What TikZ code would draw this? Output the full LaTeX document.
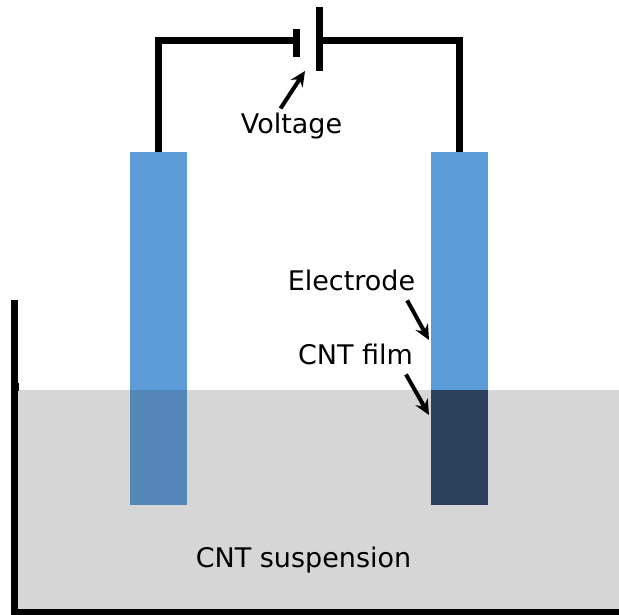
\documentclass[tikz,border=0pt]{standalone}
\usepackage{fontspec}
\setmainfont{DejaVu Sans}
\usepackage{tikz}
\usetikzlibrary{positioning,calc,arrows.meta}
\definecolor{elecblue}{HTML}{5B9BD8}
\definecolor{elecwet}{HTML}{5586B8}
\definecolor{filmdark}{HTML}{2B405A}
\definecolor{bathgray}{HTML}{D6D6D6}
\tikzstyle{electrode} = [rectangle, inner sep=0, outer sep=0, minimum width=57, minimum height=353, anchor=north, fill=elecblue]
\tikzstyle{wetpart} = [rectangle, inner sep=0, outer sep=0, minimum width=57, minimum height=115, anchor=north]
\tikzstyle{plate} = [rectangle, inner sep=0, outer sep=0, fill=black, minimum width=7]
\tikzstyle{wire} = [line width=7, line cap=butt]
\tikzstyle{arrow} = [line width=4,-{Stealth[length=15,width=14]}]
\tikzstyle{lbl} = [inner sep=0, outer sep=0, anchor=base, font=\fontsize{27}{31}\selectfont]

\begin{document}
\begin{tikzpicture}[x=1pt, y=-1pt]
    \useasboundingbox (0,0) rectangle (619,615);
    \fill[bathgray] (18,390) rectangle (619,610);
    \node[electrode] (elecL) at (158.5,152) {};
    \node[electrode] (elecR) at (459.5,152) {};
    \node[wetpart, fill=elecwet] (wetL) at (158.5,390) {};
    \node[wetpart, fill=filmdark] (filmR) at (459.5,390) {};
    \node[plate, minimum height=28] (plateS) at (296,43) {};
    \node[plate, minimum height=64] (plateB) at (319.5,39) {};
    \draw[wire] (elecL.north) |- ($(plateS.center)+(0,-2)$);
    \draw[wire] (elecR.north) |- ($(plateB.center)+(0,2)$);
    % tank wall
    \draw[line width=7, miter limit=10] (14.5,300) -- (14.5,612) -- (619,612);
    \fill (11,383) rectangle (19,391);
    \node[lbl] (voltage) at (291.5,134) {Voltage};
    \node[lbl] (lblElec) at (351.5,290) {Electrode};
    \node[lbl] (lblFilm) at (355.5,364) {CNT f{}ilm};
    \node[lbl] (lblSusp) at (303.5,567) {CNT suspension};
    \coordinate (tipVolt) at (305,71);
    \coordinate (tipElec) at (429,340);
    \coordinate (tipFilm) at (429,415);
    \draw[arrow] (voltage.north) ++(-11,-5) -- (tipVolt);
    \draw[arrow] (lblElec.south east) ++(-8,10) -- (tipElec);
    \draw[arrow] (lblFilm.south east) ++(-7,10) -- (tipFilm);
    \end{tikzpicture}
\end{document}
